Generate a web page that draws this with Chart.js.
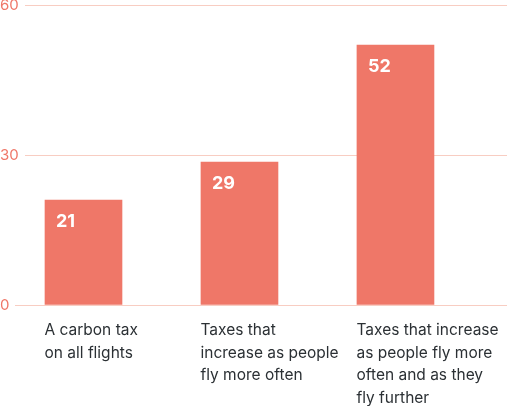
<!DOCTYPE html>
<html>
<head>
<meta charset="utf-8">
<script src="https://cdn.jsdelivr.net/npm/chart.js@4.4.1/dist/chart.umd.min.js"></script>
<style>
  html, body { margin: 0; padding: 0; background: #fff; }
  #wrap { width: 507px; height: 406px; position: relative; }
</style>
</head>
<body>
<div id="wrap"><canvas id="myChart"></canvas></div>
<script>
// chart data
var categories = [
    ["A carbon tax", "on all flights"],
    ["Taxes that", "increase as people", "fly more often"],
    ["Taxes that increase", "as people fly more", "often and as they", "fly further"]
];
var values = [21, 28.6, 52];
var valueLabels = ["21", "29", "52"];
var yTicks = [0, 30, 60];

var salmon = "#ef7768";
var gridColor = "#f8cdc2";
var textColor = "#2b3034";
var fontFamily = "Inter, 'Noto Sans', sans-serif";

// white numbers in the top-left corner of each bar
var barLabels = {
    id: "barLabels",
    afterDatasetsDraw: function (chart) {
        var ctx = chart.ctx;
        var meta = chart.getDatasetMeta(0);
        ctx.save();
        ctx.fillStyle = "#fff";
        ctx.font = "bold 18px " + fontFamily;
        ctx.textAlign = "left";
        ctx.textBaseline = "alphabetic";
        meta.data.forEach(function (bar, i) {
            var left = bar.x - bar.width / 2;
            ctx.fillText(valueLabels[i], left + 11, bar.y + 27);
        });
        ctx.restore();
    }
};

var ctx = document.getElementById('myChart').getContext('2d');
var myChart = new Chart(ctx, {
    type: 'bar',
    data: {
        datasets: [{
            data: values.map(function (v, i) { return {x: i, y: v}; }),
            backgroundColor: salmon,
            borderWidth: 0,
            barThickness: 77
        }]
    },
    options: {
        responsive: true,
        maintainAspectRatio: false,
        animation: false,
        layout: { padding: { top: 5, right: 0, bottom: 0, left: 0 } },
        plugins: {
            legend: { display: false },
            tooltip: { enabled: false }
        },
        scales: {
            x: {
                type: 'linear',
                offset: false,
                bounds: 'data',
                min: -0.375,
                max: 2.715,
                grid: { display: false, offset: false },
                border: { display: false },
                afterBuildTicks: function (s) {
                    s.ticks = categories.map(function (c, i) { return {value: i}; });
                },
                afterFit: function (s) {
                    s.height = 101;
                    s.paddingLeft = 0;
                    s.paddingRight = 0;
                },
                ticks: {
                    autoSkip: false,
                    maxRotation: 0,
                    minRotation: 0,
                    align: 'start',
                    labelOffset: -39,
                    padding: 6,
                    color: textColor,
                    font: { family: fontFamily, size: 15.5, lineHeight: 1.46 },
                    callback: function (v) { return categories[v]; }
                }
            },
            y: {
                min: 0,
                max: 60,
                afterBuildTicks: function (s) {
                    s.ticks = yTicks.map(function (t) { return {value: t}; });
                },
                afterFit: function (s) {
                    s.width = 25;
                    s.paddingTop = 0;
                    s.paddingBottom = 0;
                },
                border: { display: false },
                grid: {
                    color: gridColor,
                    lineWidth: 1,
                    drawTicks: true,
                    tickLength: 10,
                    tickColor: function (c) {
                        return c.tick && c.tick.value === 0 ? gridColor : 'rgba(0,0,0,0)';
                    }
                },
                ticks: {
                    crossAlign: 'far',
                    padding: 0,
                    color: salmon,
                    font: { family: fontFamily, size: 15 }
                }
            }
        }
    },
    plugins: [barLabels]
});
</script>
</body>
</html>
